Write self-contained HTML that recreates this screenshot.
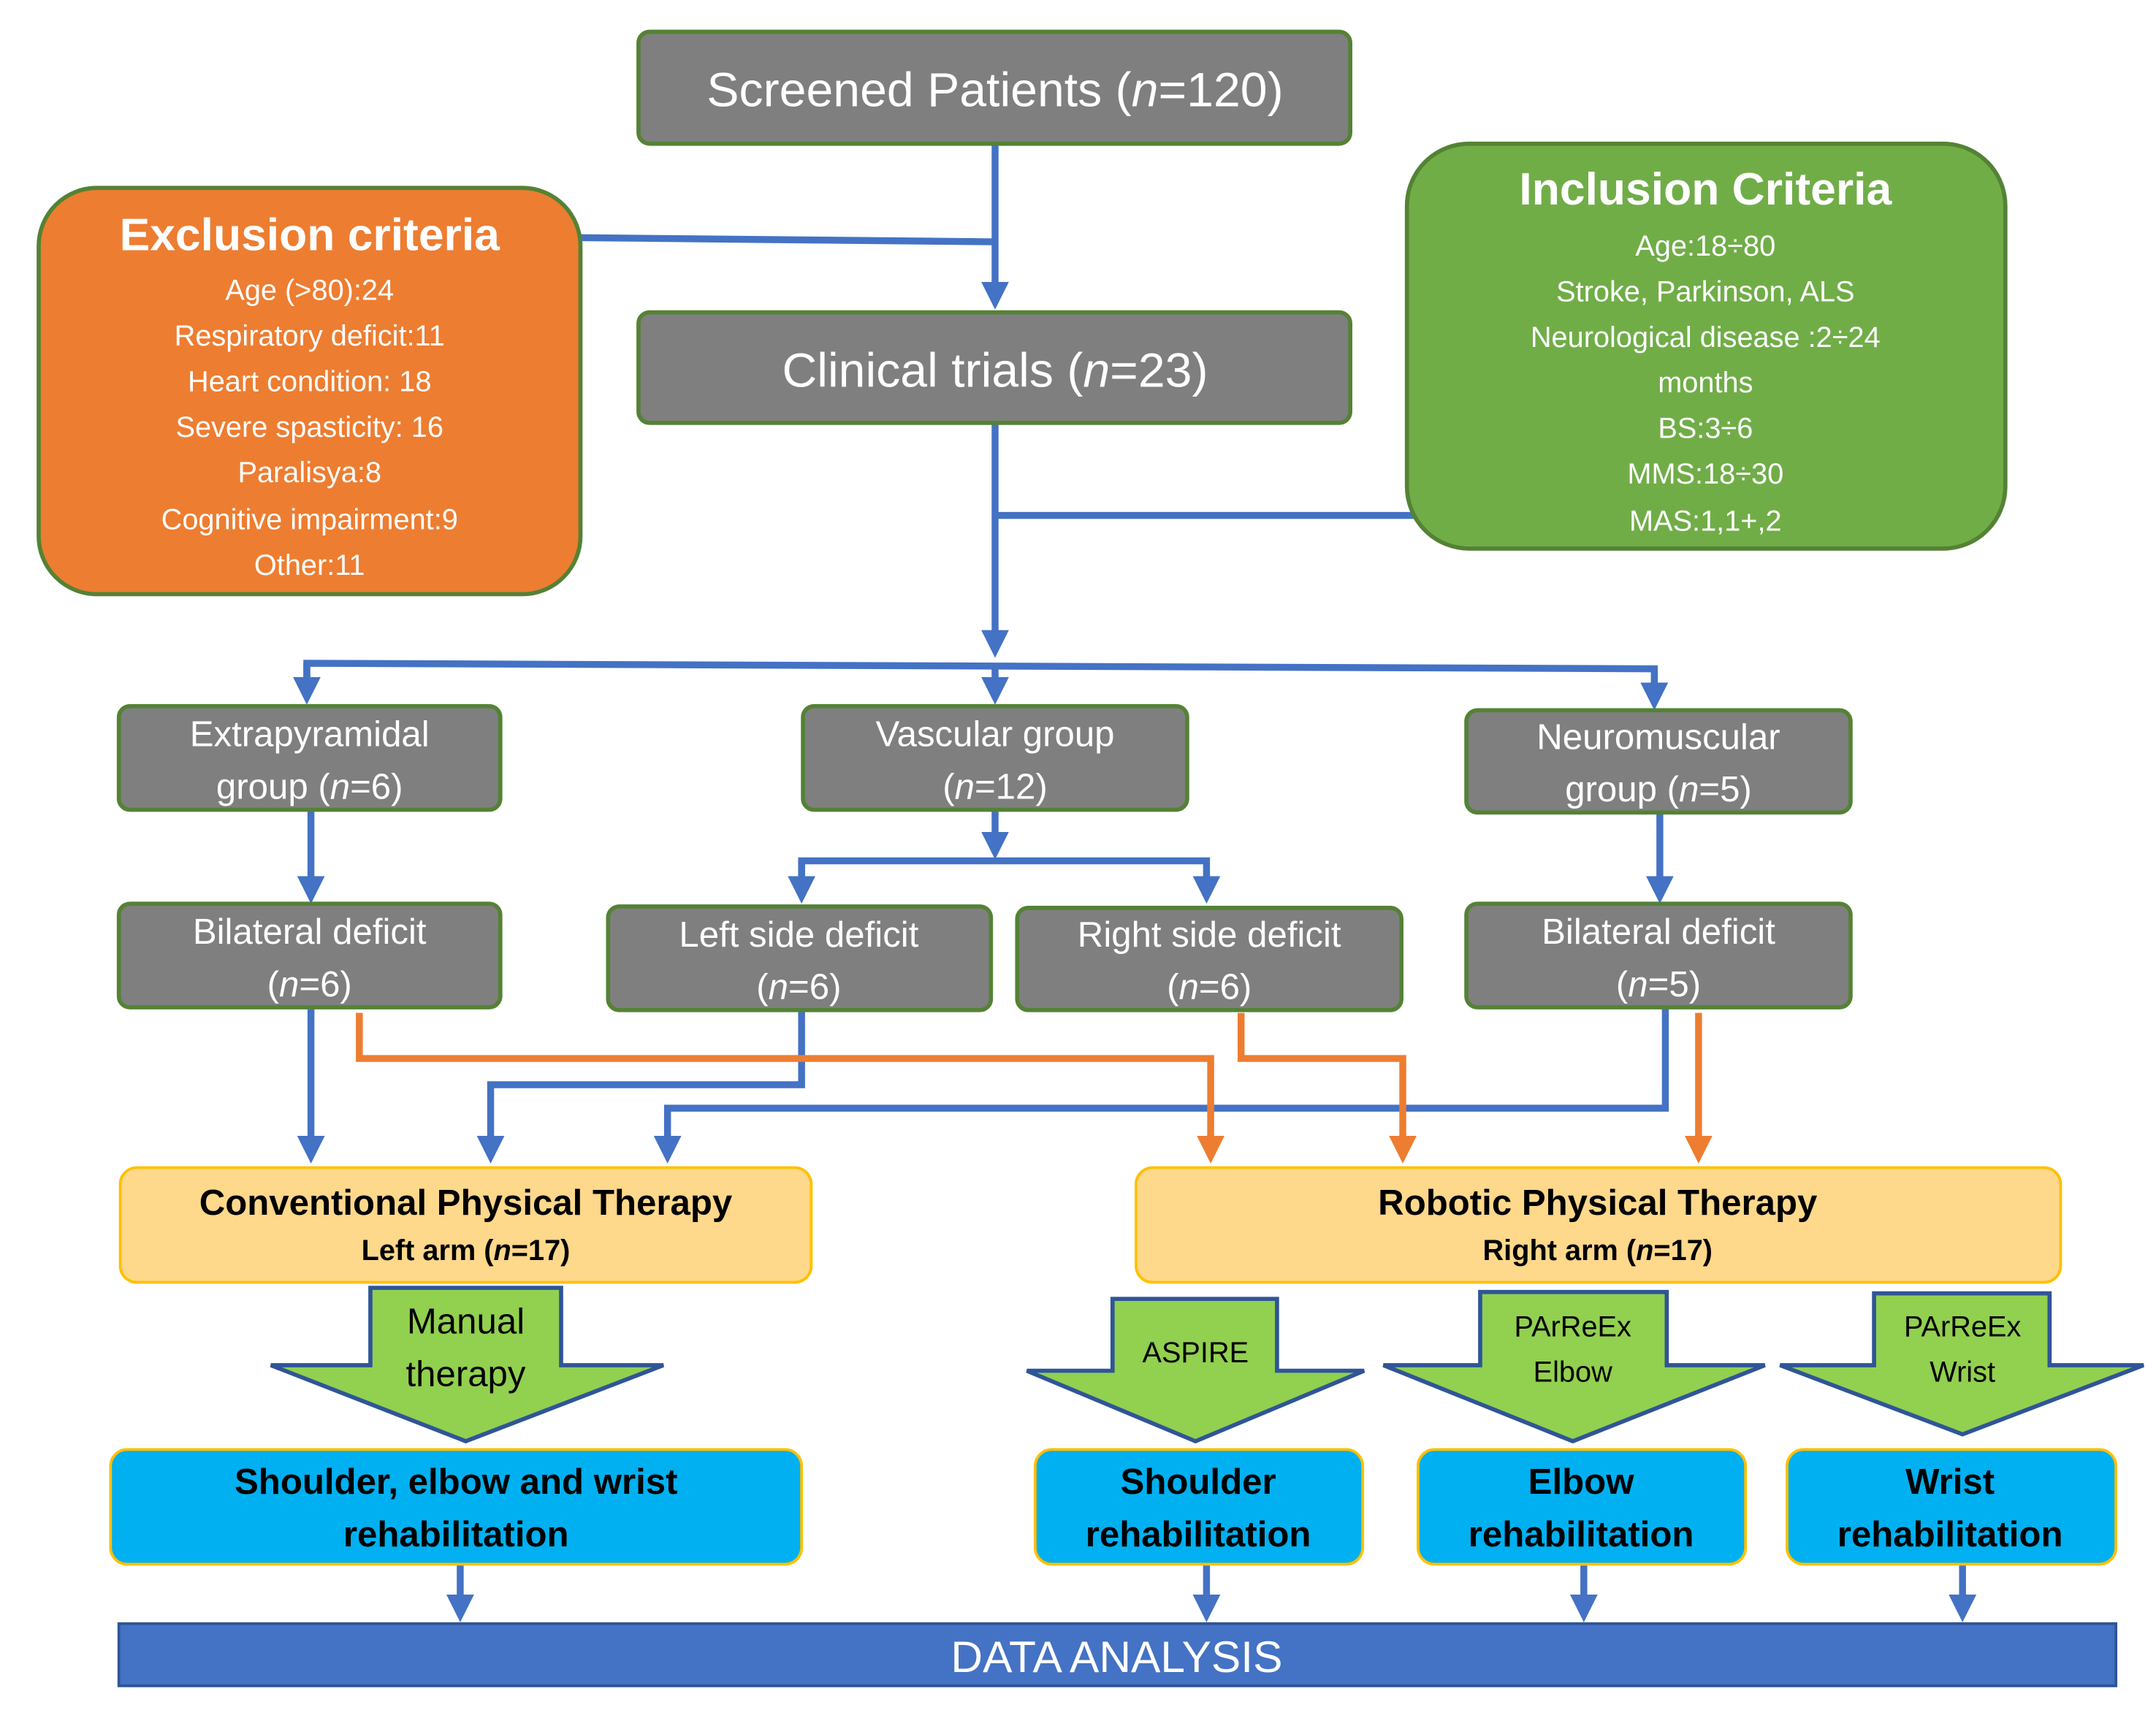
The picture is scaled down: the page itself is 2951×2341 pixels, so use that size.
<!DOCTYPE html>
<html><head><meta charset="utf-8"><style>html,body{margin:0;padding:0;background:#fff}svg{display:block}text{font-family:"Liberation Sans",sans-serif}</style></head><body>
<svg width="2951" height="2341" viewBox="0 0 1560 1237.5" preserveAspectRatio="none" xmlns="http://www.w3.org/2000/svg">
<defs>
<marker id="ab" markerWidth="4" markerHeight="4" refX="2" refY="2" orient="auto" markerUnits="strokeWidth"><path d="M0,0 L4,2 L0,4 z" fill="#4472c4"/></marker>
<marker id="ao" markerWidth="4" markerHeight="4" refX="2" refY="2" orient="auto" markerUnits="strokeWidth"><path d="M0,0 L4,2 L0,4 z" fill="#ed7d31"/></marker>
</defs>
<g fill="none" stroke="#4472c4" stroke-width="5">
<path d="M720,104 V214" marker-end="url(#ab)"/>
<path d="M420,172 L720,175"/>
<path d="M720,306 V466" marker-end="url(#ab)"/>
<path d="M720,373 H1024"/>
<path d="M222,500 V480 L1197,484 V504" marker-end="url(#ab)"/>
<path d="M222,480 V500" marker-end="url(#ab)"/>
<path d="M720,482 V500" marker-end="url(#ab)"/>
<path d="M720,586 V612" marker-end="url(#ab)"/>
<path d="M580,644 V623 H873 V644" marker-end="url(#ab)"/>
<path d="M580,623 V644" marker-end="url(#ab)"/>
<path d="M225,586 V644" marker-end="url(#ab)"/>
<path d="M1201,588 V644" marker-end="url(#ab)"/>
<path d="M225,729 V832" marker-end="url(#ab)"/>
<path d="M580,731 V785 H355 V832" marker-end="url(#ab)"/>
<path d="M1205,729 V802 H483 V832" marker-end="url(#ab)"/>
<path d="M333,1132 V1164" marker-end="url(#ab)"/>
<path d="M873,1132 V1164" marker-end="url(#ab)"/>
<path d="M1146,1132 V1164" marker-end="url(#ab)"/>
<path d="M1420,1132 V1164" marker-end="url(#ab)"/>
</g>
<g fill="none" stroke="#ed7d31" stroke-width="5">
<path d="M260,733 V766 H876 V832" marker-end="url(#ao)"/>
<path d="M898,733 V766 H1015 V832" marker-end="url(#ao)"/>
<path d="M1229,733 V832" marker-end="url(#ao)"/>
</g>
<g stroke="#548235" stroke-width="3" fill="#7f7f7f">
<rect x="462" y="23" width="515" height="81" rx="8"/>
<rect x="462" y="226" width="515" height="80" rx="8"/>
<rect x="86" y="511" width="276" height="75" rx="8"/>
<rect x="581" y="511" width="278" height="75" rx="8"/>
<rect x="1061" y="514" width="278" height="74" rx="8"/>
<rect x="86" y="654" width="276" height="75" rx="8"/>
<rect x="440" y="656" width="277" height="75" rx="8"/>
<rect x="736" y="657" width="278" height="74" rx="8"/>
<rect x="1061" y="654" width="278" height="75" rx="8"/>
<rect x="28" y="136" width="392" height="294" rx="42" fill="#ed7d31"/>
<rect x="1018" y="104" width="433" height="293" rx="45" fill="#70ad47"/>
</g>
<g fill="#fed88b" stroke="#ffc000" stroke-width="2">
<rect x="87" y="845" width="500" height="83" rx="12"/>
<rect x="822" y="845" width="669" height="83" rx="12"/>
</g>
<g fill="#92d050" stroke="#2f5597" stroke-width="3">
<path d="M268,932 H406 V988 H480 L337,1043 L196,988 H268 Z"/>
<path d="M805,940 H924 V992 H987 L865,1043 L743,992 H805 Z"/>
<path d="M1071,935 H1206 V988 H1277 L1138,1043 L1001,988 H1071 Z"/>
<path d="M1356,936 H1483 V988 H1551 L1420,1038 L1288,988 H1356 Z"/>
</g>
<g fill="#00b0f0" stroke="#ffc000" stroke-width="2">
<rect x="80" y="1049" width="500" height="83" rx="12"/>
<rect x="749" y="1049" width="237" height="83" rx="12"/>
<rect x="1026" y="1049" width="237" height="83" rx="12"/>
<rect x="1293" y="1049" width="238" height="83" rx="12"/>
</g>
<rect x="86" y="1175" width="1445" height="45" fill="#4472c4" stroke="#2f5597" stroke-width="2"/>
<g fill="#fff" text-anchor="middle">
<text x="720" y="77" font-size="35">Screened Patients (<tspan font-style="italic">n</tspan>=120)</text>
<text x="720" y="280" font-size="35">Clinical trials (<tspan font-style="italic">n</tspan>=23)</text>
<g font-size="26">
<text x="224" y="540">Extrapyramidal</text><text x="224" y="578">group (<tspan font-style="italic">n</tspan>=6)</text>
<text x="720" y="540">Vascular group</text><text x="720" y="578">(<tspan font-style="italic">n</tspan>=12)</text>
<text x="1200" y="542">Neuromuscular</text><text x="1200" y="580">group (<tspan font-style="italic">n</tspan>=5)</text>
<text x="224" y="683">Bilateral deficit</text><text x="224" y="721">(<tspan font-style="italic">n</tspan>=6)</text>
<text x="578" y="685">Left side deficit</text><text x="578" y="723">(<tspan font-style="italic">n</tspan>=6)</text>
<text x="875" y="685">Right side deficit</text><text x="875" y="723">(<tspan font-style="italic">n</tspan>=6)</text>
<text x="1200" y="683">Bilateral deficit</text><text x="1200" y="721">(<tspan font-style="italic">n</tspan>=5)</text>
</g>
<text x="224" y="181" font-size="33" font-weight="bold">Exclusion criteria</text>
<g font-size="21">
<text x="224" y="217">Age (&gt;80):24</text><text x="224" y="250">Respiratory deficit:11</text><text x="224" y="283">Heart condition: 18</text><text x="224" y="316">Severe spasticity: 16</text><text x="224" y="349">Paralisya:8</text><text x="224" y="383">Cognitive impairment:9</text><text x="224" y="416">Other:11</text>
</g>
<text x="1234" y="148" font-size="33" font-weight="bold">Inclusion Criteria</text>
<g font-size="21">
<text x="1234" y="185">Age:18÷80</text><text x="1234" y="218">Stroke, Parkinson, ALS</text><text x="1234" y="251">Neurological disease :2÷24</text><text x="1234" y="284">months</text><text x="1234" y="317">BS:3÷6</text><text x="1234" y="350">MMS:18÷30</text><text x="1234" y="384">MAS:1,1+,2</text>
</g>
<text x="808" y="1210" font-size="32">DATA ANALYSIS</text>
</g>
<g fill="#000" text-anchor="middle">
<text x="337" y="879" font-size="26" font-weight="bold">Conventional Physical Therapy</text>
<text x="337" y="912" font-size="21" font-weight="bold">Left arm (<tspan font-style="italic">n</tspan>=17)</text>
<text x="1156" y="879" font-size="26" font-weight="bold">Robotic Physical Therapy</text>
<text x="1156" y="912" font-size="21" font-weight="bold">Right arm (<tspan font-style="italic">n</tspan>=17)</text>
<text x="337" y="965" font-size="26">Manual</text><text x="337" y="1003" font-size="26">therapy</text>
<text x="865" y="986" font-size="21">ASPIRE</text>
<text x="1138" y="967" font-size="21">PArReEx</text><text x="1138" y="1000" font-size="21">Elbow</text>
<text x="1420" y="967" font-size="21">PArReEx</text><text x="1420" y="1000" font-size="21">Wrist</text>
<g font-size="26" font-weight="bold">
<text x="330" y="1081">Shoulder, elbow and wrist</text><text x="330" y="1119">rehabilitation</text>
<text x="867" y="1081">Shoulder</text><text x="867" y="1119">rehabilitation</text>
<text x="1144" y="1081">Elbow</text><text x="1144" y="1119">rehabilitation</text>
<text x="1411" y="1081">Wrist</text><text x="1411" y="1119">rehabilitation</text>
</g>
</g>
</svg>
</body></html>
